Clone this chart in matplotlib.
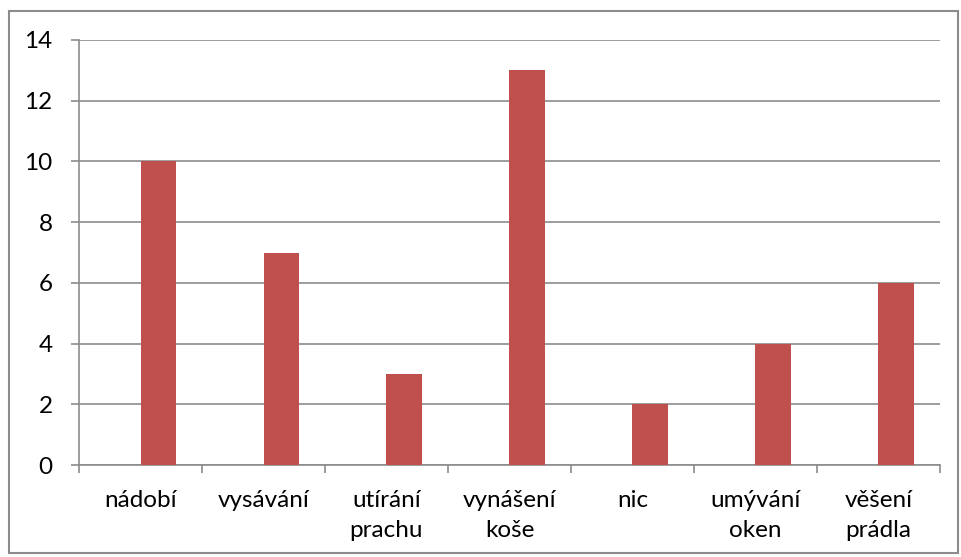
import matplotlib
matplotlib.use("Agg")
import matplotlib.pyplot as plt
import numpy as np
from matplotlib.patches import Rectangle

categories = ["nádobí", "vysávání", "utírání\nprachu", "vynášení\nkoše", "nic", "umývání\noken", "věšení\nprádla"]
values = [10, 7, 3, 13, 2, 4, 6]
yticks = [0, 2, 4, 6, 8, 10, 12, 14]

plt.rcParams['font.family'] = ['Lato', 'DejaVu Sans']

W, H = 962, 557
fig = plt.figure(figsize=(W/100, H/100), dpi=100)
ax = fig.add_axes([79/W, 1-465/H, (940-79)/W, (465-40)/H])

x = np.arange(len(categories))
bw = 0.285
ax.bar(x + bw/2, values, width=bw, color="#C0504D", zorder=3)

ax.set_xlim(-0.5, len(categories)-0.5)
ax.set_ylim(0, 14)
ax.set_yticks(yticks)
ax.set_yticklabels([str(v) for v in yticks], fontsize=17.5)
ax.yaxis.grid(True, color="#8c8c8c", linewidth=1.2, zorder=0)
ax.set_axisbelow(True)

ax.set_xticks(x)
ax.set_xticklabels(categories, fontsize=17.5, linespacing=1.55, va="top")
ax.tick_params(axis="x", length=0, pad=18)
ax.set_xticks(np.arange(len(categories)+1) - 0.5, minor=True)
ax.tick_params(axis="x", which="minor", length=6, color="#8c8c8c", width=1.2)
ax.tick_params(axis="y", length=6, color="#8c8c8c", width=1.2, pad=13)

for s in ["top", "right"]:
    ax.spines[s].set_visible(False)
for s in ["left", "bottom"]:
    ax.spines[s].set_color("#8c8c8c")
    ax.spines[s].set_linewidth(1.2)

fig.patches.append(Rectangle((9/W, 1-553/H), (958-9)/W, (553-11)/H,
                             transform=fig.transFigure, fill=False,
                             edgecolor="#8c8c8c", linewidth=1.5))

fig.savefig("out.png", dpi=100)
